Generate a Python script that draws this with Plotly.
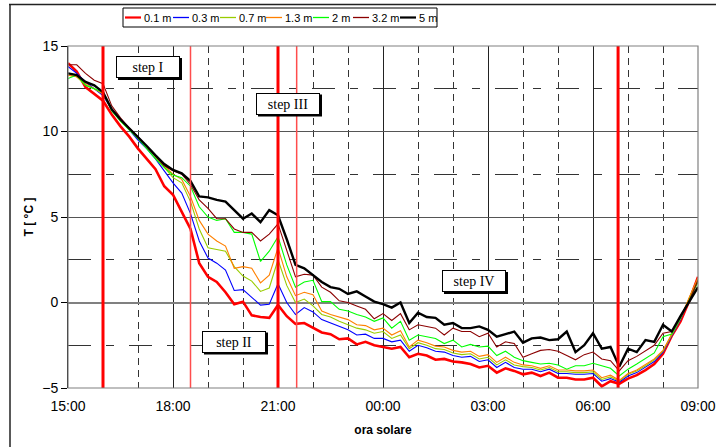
import plotly.graph_objects as go
from datetime import datetime

# ---------------- data ----------------
times = [
    "15:00", "15:15", "15:30", "15:45", "16:00", "16:15", "16:30", "16:45",
    "17:00", "17:15", "17:30", "17:45", "18:00", "18:15", "18:30", "18:45",
    "19:00", "19:15", "19:30", "19:45", "20:00", "20:15", "20:30", "20:45",
    "21:00", "21:15", "21:30", "21:45", "22:00", "22:15", "22:30", "22:45",
    "23:00", "23:15", "23:30", "23:45", "00:00", "00:15", "00:30", "00:45",
    "01:00", "01:15", "01:30", "01:45", "02:00", "02:15", "02:30", "02:45",
    "03:00", "03:15", "03:30", "03:45", "04:00", "04:15", "04:30", "04:45",
    "05:00", "05:15", "05:30", "05:45", "06:00", "06:15", "06:30", "06:45",
    "07:00", "07:15", "07:30", "07:45", "08:00", "08:15", "08:30", "08:45",
    "09:00",
]

t_0_1 = [14.0, 13.5, 12.6, 12.2, 11.8, 11.0, 10.3, 9.7, 9.0, 8.4, 7.8, 6.8,
         6.3, 5.3, 4.3, 2.3, 1.5, 1.2, 0.6, -0.1, 0.05, -0.75, -0.85, -0.9,
         -0.15, -0.8, -1.25, -1.2, -1.5, -1.75, -1.85, -2.15, -2.1, -2.45, -2.3, -2.5,
         -2.6, -2.7, -2.6, -3.2, -3.0, -3.1, -3.35, -3.3, -3.45, -3.5, -3.6, -3.8,
         -3.7, -4.1, -3.85, -4.0, -4.2, -4.1, -4.3, -4.1, -4.4, -4.4, -4.5, -4.5,
         -4.4, -4.9, -4.6, -4.75, -4.45, -4.25, -3.95, -3.6, -3.0, -1.95, -1.1, 0.1, 1.5]

t_0_3 = [13.8, 13.4, 12.9, 12.5, 12.1, 11.3, 10.7, 10.1, 9.5, 9.0, 8.4, 7.7,
         7.0, 6.4, 5.2, 3.6, 2.6, 2.3, 1.9, 0.7, 0.75, 0.3, -0.15, -0.1,
         1.1, 0.0, -0.7, -0.3, -0.55, -1.0, -1.2, -1.4, -1.6, -1.9, -1.85, -2.1,
         -2.1, -2.3, -2.2, -2.85, -2.5, -2.65, -2.85, -2.9, -3.1, -3.2, -3.15, -3.45,
         -3.35, -3.8, -3.5, -3.8, -3.9, -3.9, -4.05, -3.9, -4.15, -4.15, -4.2, -4.2,
         -4.15, -4.6, -4.45, -4.65, -4.3, -4.1, -3.8, -3.45, -2.9, -1.95, -1.0, 0.2, 1.4]

t_0_7 = [13.3, 13.2, 12.7, 12.5, 12.2, 11.3, 10.6, 10.1, 9.6, 9.1, 8.5, 7.9,
         7.3, 7.0, 5.9, 4.3, 3.2, 3.1, 3.0, 2.1, 1.55, 1.25, 0.65, 0.85,
         2.5, 1.0, 0.0, 0.2, -0.2, -0.7, -0.85, -1.1, -1.3, -1.5, -1.6, -1.8,
         -1.7, -2.1, -1.9, -2.7, -2.35, -2.5, -2.7, -2.75, -2.95, -3.05, -3.0, -3.3,
         -3.2, -3.65, -3.35, -3.65, -3.75, -3.8, -3.95, -3.8, -4.05, -4.05, -4.1, -4.1,
         -4.05, -4.5, -4.35, -4.6, -4.2, -4.0, -3.7, -3.35, -2.85, -1.9, -0.95, 0.25, 1.4]

t_1_3 = [13.3, 13.2, 12.8, 12.5, 12.2, 11.3, 10.7, 10.2, 9.65, 9.1, 8.5, 8.0,
         7.5, 7.2, 6.2, 4.8, 4.0, 3.6, 3.3, 2.0, 2.1, 2.0, 1.15, 1.6,
         3.2, 1.5, 0.4, 0.6, 0.45, -0.5, -0.7, -0.85, -1.0, -1.3, -1.35, -1.6,
         -1.5, -1.9, -1.65, -2.6, -2.2, -2.35, -2.55, -2.6, -2.8, -2.9, -2.85, -3.15,
         -3.05, -3.5, -3.2, -3.5, -3.65, -3.7, -3.85, -3.7, -3.95, -3.95, -4.0, -4.0,
         -3.95, -4.4, -4.25, -4.55, -4.15, -3.95, -3.65, -3.3, -2.8, -1.85, -0.9, 0.3, 1.45]

t_2 = [13.1, 13.3, 12.7, 12.5, 12.3, 11.2, 10.6, 10.1, 9.6, 9.0, 8.4, 7.9,
       7.45, 7.3, 6.8, 5.6, 5.0, 4.8, 4.9, 4.1, 4.1, 4.0, 2.4, 3.0,
       3.85, 2.2, 0.9, 1.2, 1.3, 0.05, 0.05, -0.4, -0.5, -0.7, -0.85, -1.1,
       -0.9, -1.5, -1.1, -2.2, -1.9, -2.0, -2.1, -2.4, -2.2, -2.6, -2.45, -2.6,
       -2.55, -3.1, -2.85, -3.2, -3.4, -3.5, -3.6, -3.55, -3.65, -3.9, -3.7, -3.7,
       -3.55, -3.7, -3.85, -4.3, -3.9, -3.6, -3.25, -2.95, -2.0, -1.85, -0.9, 0.15, 1.2]

t_3_2 = [13.9, 13.9, 13.4, 13.0, 12.8, 11.5, 10.8, 10.2, 9.7, 9.15, 8.6, 8.0,
         7.7, 7.5, 6.9, 6.0, 5.5, 4.9, 4.9, 4.3, 4.1, 4.1, 3.6, 4.0,
         4.6, 3.0, 1.5, 1.65, 1.6, 0.9, 0.6, 0.1, 0.0, -0.2, -0.4, -0.95,
         -0.65, -1.05, -0.65, -1.6, -1.3, -1.4, -1.5, -1.9, -1.5, -1.7, -1.7, -2.0,
         -1.8, -2.6, -2.3, -2.4, -3.2, -3.0, -2.8, -2.75, -2.85, -3.1, -3.35, -3.05,
         -2.9, -3.3, -3.4, -4.0, -3.4, -3.15, -2.8, -2.5, -1.8, -1.7, -0.8, 0.1, 1.3]

t_5 = [13.4, 13.3, 12.9, 12.7, 12.3, 11.3, 10.7, 10.2, 9.7, 9.15, 8.6, 8.1,
       7.75, 7.55, 7.1, 6.2, 6.15, 6.0, 5.9, 5.4, 4.9, 5.2, 4.7, 5.4,
       5.1, 3.7, 2.2, 2.0, 1.6, 1.2, 0.9, 0.8, 0.5, 0.65, 0.35, 0.05,
       -0.1, -0.3, 0.0, -1.2, -0.6, -0.85, -0.9, -1.3, -1.2, -1.5, -1.5, -1.4,
       -1.6, -2.0, -1.85, -1.7, -2.35, -2.1, -2.05, -2.2, -2.15, -1.7, -2.9, -2.5,
       -1.8, -2.7, -2.6, -3.75, -2.7, -2.9, -2.2, -2.3, -1.3, -1.7, -0.8, 0.05, 0.9]

depth_labels = ["0.1 m", "0.3 m", "0.7 m", "1.3 m", "2 m", "3.2 m", "5 m"]
series = [t_0_1, t_0_3, t_0_7, t_1_3, t_2, t_3_2, t_5]

event_times = ["16:00", "18:30", "21:00", "21:32", "06:43"]
step_labels = ["step I", "step II", "step III", "step IV"]

x_title = "ora solare"
y_title = "T [ °C ]"

# ---------------- styles ----------------
colors = ["#FF0000", "#0000FF", "#99CC00", "#FF8000", "#00FF00", "#8B0000", "#000000"]
widths = [2.6, 1.1, 1.1, 1.1, 1.1, 1.1, 2.4]
event_thick = [True, False, True, False, True]
step_centers_px = [(148, 67), (234, 341.5), (288, 103.5), (474, 281)]

L, T, R, B = 68, 46, 698, 388   # plot area in pixels


def px2x(p):
    return (p - L) / float(R - L)


def px2y(p):
    return (B - p) / float(B - T)


def to_dt(s):
    h, m = map(int, s.split(":"))
    day = 1 if h >= 12 else 2
    return datetime(2000, 1, day, h, m)


x = [to_dt(s) for s in times]

fig = go.Figure()
for lab, ys, c, w in zip(depth_labels, series, colors, widths):
    fig.add_trace(go.Scatter(x=x, y=ys, mode="lines", name=lab,
                             line=dict(color=c, width=w), showlegend=False))

# event vertical lines
for t, thick in zip(event_times, event_thick):
    fig.add_shape(type="line", xref="x", yref="paper", x0=to_dt(t), x1=to_dt(t),
                  y0=0, y1=1,
                  line=dict(color="#FF0000" if thick else "#FF4D4D",
                            width=3 if thick else 1.5), layer="above")

# step annotations with a small drop shadow
for lab, (cx, cy) in zip(step_labels, step_centers_px):
    fig.add_shape(type="rect", xref="paper", yref="paper",
                  x0=px2x(cx - 30), x1=px2x(cx + 34), y0=px2y(cy + 13), y1=px2y(cy - 9),
                  line=dict(width=0), fillcolor="#000000", layer="above")
    fig.add_annotation(xref="paper", yref="paper", x=px2x(cx), y=px2y(cy), text=lab,
                       showarrow=False, xanchor="center", yanchor="middle",
                       font=dict(family="Liberation Serif", size=14, color="#000000"),
                       bgcolor="#FFFFFF", bordercolor="#000000", borderwidth=1,
                       borderpad=1, width=60, height=18)

# custom legend box
fig.add_shape(type="rect", xref="paper", yref="paper",
              x0=px2x(123), x1=px2x(437), y0=px2y(27), y1=px2y(8),
              line=dict(color="#000000", width=1), fillcolor="#FFFFFF")
leg_line_start = [125, 173, 220, 266, 313, 353, 400]
leg_line_len = 16
for lab, c, w, ls in zip(depth_labels, colors, widths, leg_line_start):
    fig.add_shape(type="line", xref="paper", yref="paper",
                  x0=px2x(ls), x1=px2x(ls + leg_line_len), y0=px2y(17.5), y1=px2y(17.5),
                  line=dict(color=c, width=2.2 if w > 2 else 1.3))
    fig.add_annotation(xref="paper", yref="paper", x=px2x(ls + leg_line_len + 1),
                       y=px2y(17.5), text=lab, showarrow=False,
                       xanchor="left", yanchor="middle",
                       font=dict(family="Liberation Sans", size=11, color="#000000"))

# outer frame (left and top)
fig.add_shape(type="line", xref="paper", yref="paper", x0=px2x(10), x1=px2x(10),
              y0=px2y(447), y1=px2y(4.5), line=dict(color="#222222", width=1.5))
fig.add_shape(type="line", xref="paper", yref="paper", x0=px2x(9), x1=px2x(716),
              y0=px2y(4.5), y1=px2y(4.5), line=dict(color="#222222", width=1.5))

# plot border (grey)
fig.add_shape(type="rect", xref="paper", yref="paper", x0=0, x1=1, y0=0, y1=1,
              line=dict(color="#808080", width=1.2), layer="above")

fig.update_layout(
    width=716, height=447,
    margin=dict(l=L, r=716 - R, t=T, b=447 - B),
    paper_bgcolor="#FFFFFF", plot_bgcolor="#FFFFFF",
    font=dict(family="Liberation Sans", size=14, color="#000000"),
    xaxis=dict(
        type="date", automargin=False,
        range=[to_dt("15:00"), to_dt("09:00")],
        tick0=to_dt("15:00"), dtick=3 * 3600000, tickformat="%H:%M",
        showgrid=True, gridcolor="#222222", gridwidth=1,
        minor=dict(dtick=3600000, tick0=to_dt("15:00"), showgrid=True,
                   gridcolor="#333333", gridwidth=1, griddash="7px,5px"),
        showline=False, ticks="", zeroline=False, ticklabelstandoff=8,
        title=dict(text="<b>" + x_title + "</b>", font=dict(size=12), standoff=12),
        tickfont=dict(size=14),
    ),
    yaxis=dict(
        range=[-5, 15], tick0=0, dtick=5, automargin=False,
        showgrid=True, gridcolor="#555555", gridwidth=1,
        minor=dict(dtick=2.5, tick0=0, showgrid=True, gridcolor="#333333",
                   gridwidth=1, griddash="23px,15px,8px,15px"),
        zeroline=True, zerolinecolor="#808080", zerolinewidth=2.2,
        showline=True, linecolor="#000000", linewidth=1,
        ticks="outside", ticklen=6, tickcolor="#000000",
        title=dict(text="<b>" + y_title + "</b>", font=dict(size=12), standoff=6),
        tickfont=dict(size=14),
    ),
)

fig.write_html("out.html", config={"displayModeBar": False},
               post_script="document.body.style.margin='0';document.body.style.overflow='hidden';")
